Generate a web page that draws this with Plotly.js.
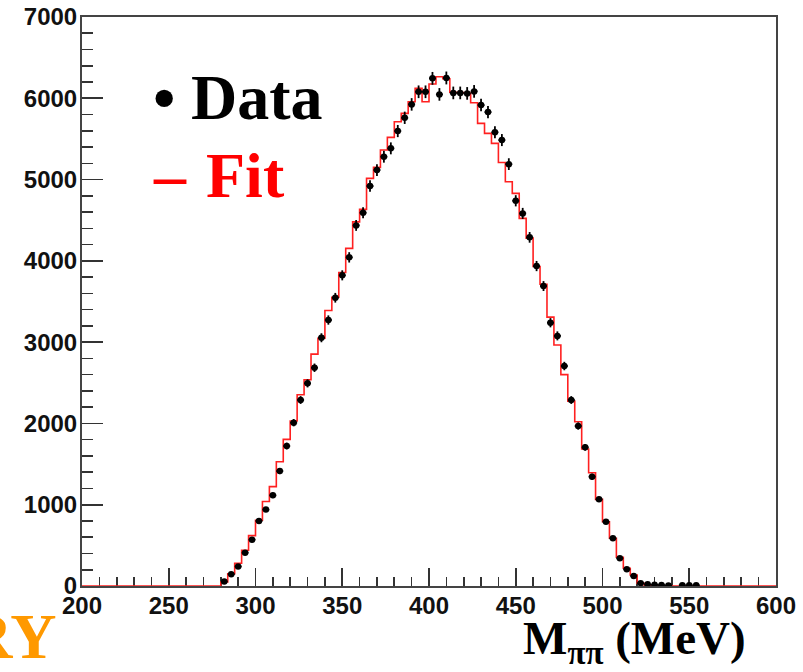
<!DOCTYPE html>
<html>
<head>
<meta charset="utf-8">
<script src="https://cdn.plot.ly/plotly-3.0.1.min.js"></script>
<style>html,body{margin:0;padding:0;background:#fff;}#chart{width:803px;height:672px;}</style>
</head>
<body>
<div id="chart"></div>
<script>
// Bin centres (MeV), 4 MeV bins starting at 280 MeV
const massBins = [282,286,290,294,298,302,306,310,314,318,322,326,330,334,338,342,346,350,354,358,
  362,366,370,374,378,382,386,390,394,398,402,406,410,414,418,422,426,430,434,438,
  442,446,450,454,458,462,466,470,474,478,482,486,490,494,498,502,506,510,514,518,
  522,526,530,534,538,542,546,550,554];
// Data counts per bin
const dataCounts = [55,145,240,410,570,800,940,1115,1414,1722,2009,2288,2493,2685,3054,3272,3546,3822,4043,4436,
  4592,4920,5117,5281,5384,5597,5760,5925,6080,6080,6245,6048,6250,6066,6066,6060,6085,5916,5830,5582,
  5486,5190,4739,4584,4289,3936,3690,3239,3077,2706,2288,1968,1706,1345,1066,791,587,341,205,123,
  35,20,15,12,6,0,10,8,10];
// Fit histogram per bin
const fitCounts = [50,150,280,440,620,808,1040,1222,1529,1804,2030,2352,2538,2852,3048,3390,3552,3856,4154,4480,
  4633,5015,5150,5363,5519,5711,5814,5957,6122,5957,6175,6265,6240,6075,6070,6065,5945,5691,5568,5445,
  5210,4973,4830,4523,4280,3930,3712,3308,2964,2600,2275,2021,1685,1394,1066,791,587,353,218,135,
  33,10,0,0,0,0,0,0,0];
const binWidth = 4;
const xRange = [200, 600];
const yRange = [0, 7000];
const dataMarker = "•", dataLabel = "Data";
const fitMarker = "–", fitLabel = "Fit";
const xTitle = "M<sub>ππ</sub> (MeV)";
const watermark = "PRELIMINARY";

// Fit as step histogram (low edges, 'hv')
const fx = [xRange[0]], fy = [0];
massBins.forEach((c, i) => { fx.push(c - binWidth/2); fy.push(fitCounts[i]); });
fx.push(xRange[1]); fy.push(0);

// Data points: non-empty bins only
const dx = [], dy = [], de = [];
massBins.forEach((c, i) => { if (dataCounts[i] > 0) { dx.push(c); dy.push(dataCounts[i]); de.push(Math.sqrt(dataCounts[i])); } });

const L = 82, R = 27, T = 17, B = 86, W = 803, H = 672;
const pw = W - L - R, ph = H - T - B;
const px = x => (x - L) / pw;
const py = y => (H - B - y) / ph;

const traces = [
  {x: fx, y: fy, type: 'scatter', mode: 'lines', line: {shape: 'hv', color: '#ff2020', width: 1.6}, hoverinfo: 'skip'},
  {x: dx, y: dy, type: 'scatter', mode: 'markers', marker: {color: '#000', size: 6.5},
   error_y: {type: 'data', array: de, visible: true, color: '#000', thickness: 1.8, width: 0},
   error_x: {type: 'constant', value: binWidth/2, visible: true, color: '#000', thickness: 1.8, width: 0}}
];

const serif = 'Liberation Serif, Times New Roman, serif';
const tickFont = {family: 'Liberation Sans, Arial, sans-serif', size: 24, color: '#111', weight: 'bold'};
const layout = {
  width: W, height: H,
  margin: {l: L, r: R, t: T, b: B, pad: 0},
  paper_bgcolor: '#fff', plot_bgcolor: '#fff',
  showlegend: false,
  xaxis: {range: xRange, showgrid: false, zeroline: false, showline: true, linecolor: '#444', linewidth: 2,
    mirror: true, ticks: 'inside', ticklen: 18, tickwidth: 1.6, tickcolor: '#333', dtick: 50, tick0: 200,
    minor: {ticks: 'inside', ticklen: 9, tickwidth: 1.6, tickcolor: '#333', dtick: 10},
    tickfont: tickFont, ticklabelstandoff: -3, layer: 'below traces', fixedrange: true},
  yaxis: {range: yRange, showgrid: false, zeroline: false, showline: true, linecolor: '#444', linewidth: 2,
    mirror: true, ticks: 'inside', ticklen: 21, tickwidth: 1.6, tickcolor: '#333', dtick: 1000, tick0: 0,
    minor: {ticks: 'inside', ticklen: 11, tickwidth: 1.6, tickcolor: '#333', dtick: 200},
    tickfont: tickFont, ticklabelstandoff: -2, layer: 'below traces', fixedrange: true},
  annotations: [
    {xref: 'paper', yref: 'paper', x: px(151), y: py(98), xanchor: 'left', yanchor: 'middle', showarrow: false,
     text: dataMarker, font: {family: serif, size: 64, color: '#000', weight: 'bold'}},
    {xref: 'paper', yref: 'paper', x: px(189), y: py(98), xanchor: 'left', yanchor: 'middle', showarrow: false,
     text: dataLabel, font: {family: serif, size: 64, color: '#000', weight: 'bold'}},
    {xref: 'paper', yref: 'paper', x: px(151), y: py(175), xanchor: 'left', yanchor: 'middle', showarrow: false,
     text: fitMarker, font: {family: serif, size: 64, color: '#ff0000', weight: 'bold'}},
    {xref: 'paper', yref: 'paper', x: px(204), y: py(175), xanchor: 'left', yanchor: 'middle', showarrow: false,
     text: fitLabel, font: {family: serif, size: 64, color: '#ff0000', weight: 'bold'}},
    {xref: 'paper', yref: 'paper', x: px(748), y: py(610), xanchor: 'right', yanchor: 'top', showarrow: false,
     text: xTitle, font: {family: serif, size: 47, color: '#000', weight: 'bold'}},
    {xref: 'paper', yref: 'paper', x: px(59), y: py(636), xanchor: 'right', yanchor: 'middle', showarrow: false,
     text: watermark, font: {family: serif, size: 64, color: '#FF9900', weight: 'bold'}}
  ]
};
Plotly.newPlot('chart', traces, layout, {displayModeBar: false, staticPlot: true});
</script>
</body>
</html>
